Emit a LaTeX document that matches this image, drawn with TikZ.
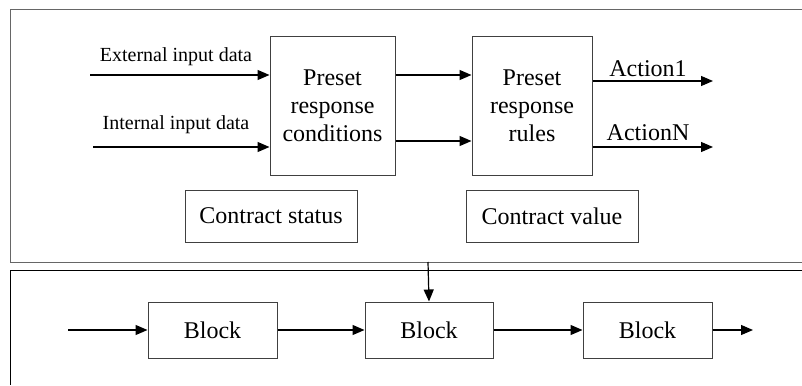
\documentclass[tikz,border=0pt]{standalone}
\usepackage{fontspec}
\setmainfont{Liberation Serif}
\usetikzlibrary{arrows.meta}
\begin{document}
\begin{tikzpicture}[x=1pt,y=-1pt,
  box/.style={draw=black!75,line width=1pt,inner sep=0pt,align=center,font=\fontsize{24}{28}\selectfont},
  arr/.style={line width=1.2pt,-{Triangle[length=12pt,width=10pt]}},
  lbl/.style={font=\fontsize{20}{24}\selectfont,inner sep=0pt},
  albl/.style={font=\fontsize{24}{28}\selectfont,inner sep=0pt}]
\useasboundingbox (0,0) rectangle (802,385);
% panels
\draw[black!60,line width=1pt] (802,10) -- (10,10) -- (10,262) -- (802,262);
\draw[black,line width=1pt] (802,270) -- (10,270) -- (10,385);
% top boxes
\node[box,minimum width=125pt,minimum height=138pt] (cond) at (332.5,106) {Preset\\response\\conditions};
\node[box,minimum width=120pt,minimum height=138pt] (rules) at (532,106) {Preset\\response\\rules};
\node[box,minimum width=172pt,minimum height=52pt] (status) at (271,216) {Contract status};
\node[box,minimum width=172pt,minimum height=52pt] (value) at (552,216) {Contract value};
% inputs
\coordinate (e0) at (90,75);
\coordinate (i0) at (93,147);
\draw[arr] (e0) -- (cond.west |- e0);
\draw[arr] (i0) -- (cond.west |- i0);
\node[lbl] (elbl) at (176,57) {External input data};
\node[lbl] (ilbl) at (176,125) {Internal input data};
% between
\draw[arr] (cond.east |- 0,75) -- (rules.west |- 0,75);
\draw[arr] (cond.east |- 0,141) -- (rules.west |- 0,141);
% outputs
\coordinate (a1) at (713,81);
\coordinate (aN) at (713,147);
\draw[arr] (rules.east |- a1) -- (a1);
\draw[arr] (rules.east |- aN) -- (aN);
\node[albl] (a1lbl) at (648,69) {Action1};
\node[albl] (aNlbl) at (648,133) {ActionN};
% bottom chain
\node[box,minimum width=129pt,minimum height=56pt] (b1) at (212.5,330) {Block};
\node[box,minimum width=128pt,minimum height=56pt] (b2) at (429,330) {Block};
\node[box,minimum width=129pt,minimum height=56pt] (b3) at (647.5,330) {Block};
\coordinate (s0) at (68,330);
\coordinate (t0) at (753,330);
\draw[arr] (s0) -- (b1);
\draw[arr] (b1) -- (b2);
\draw[arr] (b2) -- (b3);
\draw[arr] (b3) -- (t0);
\coordinate (v0) at (428,262);
\draw[arr] (v0) -- (b2.north);
\end{tikzpicture}
\end{document}
